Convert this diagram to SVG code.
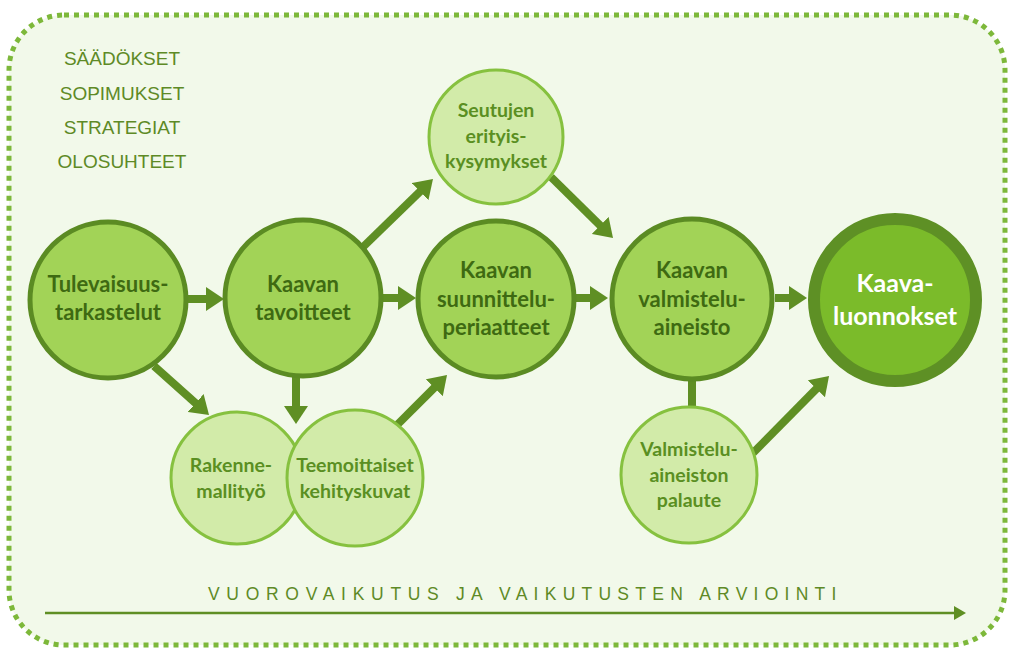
<svg xmlns="http://www.w3.org/2000/svg" width="1024" height="655" viewBox="0 0 1024 655">
<defs>
<style>
.main{fill:#a2d357;stroke:#5b8b23;stroke-width:5}
.light{fill:#d2eba9;stroke:#86c13f;stroke-width:3}
.t{font-family:Lato,"Open Sans",sans-serif;font-weight:bold;text-anchor:middle}
.tm{font-size:22px;fill:#3e6a12}
.tl{font-size:19.5px;fill:#5a8f22}
.side{font-family:"Liberation Sans",Arial,sans-serif;font-size:19px;fill:#5e8a26;text-anchor:middle}
.arr{stroke:#5f8f24;stroke-width:8;fill:none}
.bottom{font-family:"Liberation Sans",Arial,sans-serif;font-size:17.5px;fill:#5e8a26;letter-spacing:6.7px}
</style>
<marker id="ah" viewBox="0 0 18 24" markerUnits="userSpaceOnUse" markerWidth="18" markerHeight="24" refX="2" refY="12" orient="auto">
<path d="M0,0 L18,12 L0,24 z" fill="#5f8f24"/>
</marker>
</defs>
<rect width="1024" height="655" fill="#ffffff"/>
<rect x="9" y="15" width="996" height="630" rx="55" ry="55" fill="#f2f9ea" stroke="#7db83a" stroke-width="5" stroke-dasharray="5 5"/>
<g id="labels-left">
<text class="side" x="122" y="65">SÄÄDÖKSET</text>
<text class="side" x="122" y="100">SOPIMUKSET</text>
<text class="side" x="122" y="134">STRATEGIAT</text>
<text class="side" x="122" y="168">OLOSUHTEET</text>
</g>
<g id="connectors">
<line class="arr" x1="188" y1="299" x2="208" y2="299" marker-end="url(#ah)"/>
<line class="arr" x1="382" y1="298" x2="400" y2="298" marker-end="url(#ah)"/>
<line class="arr" x1="574" y1="298" x2="592" y2="298" marker-end="url(#ah)"/>
<line class="arr" x1="775" y1="298" x2="791" y2="298" marker-end="url(#ah)"/>
<line class="arr" x1="363" y1="247" x2="421.5" y2="190.2" marker-end="url(#ah)"/>
<line class="arr" x1="551" y1="177" x2="601.6" y2="226.8" marker-end="url(#ah)"/>
<line class="arr" x1="154" y1="366" x2="197.1" y2="404.4" marker-end="url(#ah)"/>
<line class="arr" x1="296" y1="377" x2="296" y2="408" marker-end="url(#ah)"/>
<line class="arr" x1="397" y1="425" x2="435.7" y2="386.3" marker-end="url(#ah)"/>
<line class="arr" x1="692" y1="378" x2="692" y2="408"/>
<line class="arr" x1="753" y1="453" x2="817.8" y2="387.4" marker-end="url(#ah)"/>
<line x1="45" y1="613" x2="956" y2="613" stroke="#5f8f24" stroke-width="2.5"/>
<polygon points="954,606 966,613 954,620" fill="#5f8f24"/>
</g>
<g id="n-tulevaisuus">
<circle class="main" cx="108" cy="300" r="78"/>
<text class="t tm" x="108" y="292">Tulevaisuus-</text>
<text class="t tm" x="108" y="320">tarkastelut</text>
</g>
<g id="n-tavoitteet">
<circle class="main" cx="303" cy="298" r="78"/>
<text class="t tm" x="303" y="292">Kaavan</text>
<text class="t tm" x="303" y="320">tavoitteet</text>
</g>
<g id="n-seutujen">
<circle class="light" cx="496" cy="137" r="67"/>
<text class="t tl" x="496" y="117">Seutujen</text>
<text class="t tl" x="496" y="143">erityis-</text>
<text class="t tl" x="496" y="168">kysymykset</text>
</g>
<g id="n-suunnittelu">
<circle class="main" cx="496" cy="299" r="78"/>
<text class="t tm" x="496" y="278">Kaavan</text>
<text class="t tm" x="496" y="307">suunnittelu-</text>
<text class="t tm" x="496" y="335">periaatteet</text>
</g>
<g id="n-valmistelu">
<circle class="main" cx="692" cy="299" r="80"/>
<text class="t tm" x="692" y="278">Kaavan</text>
<text class="t tm" x="692" y="307">valmistelu-</text>
<text class="t tm" x="692" y="335">aineisto</text>
</g>
<g id="n-luonnokset">
<circle cx="895" cy="300" r="81" fill="#7bbb2a" stroke="#5e9025" stroke-width="12"/>
<text class="t" x="895" y="292" font-size="25" fill="#ffffff">Kaava-</text>
<text class="t" x="895" y="325" font-size="25" fill="#ffffff">luonnokset</text>
</g>
<g id="n-rakenne">
<circle class="light" cx="237" cy="478" r="66"/>
<text class="t tl" x="231" y="472">Rakenne-</text>
<text class="t tl" x="231" y="498">mallityö</text>
</g>
<g id="n-teemoittaiset">
<circle class="light" cx="355" cy="478" r="68"/>
<text class="t tl" x="355" y="472">Teemoittaiset</text>
<text class="t tl" x="355" y="498">kehityskuvat</text>
</g>
<g id="n-palaute">
<circle class="light" cx="689" cy="475" r="68"/>
<text class="t tl" x="689" y="456">Valmistelu-</text>
<text class="t tl" x="689" y="482">aineiston</text>
<text class="t tl" x="689" y="507">palaute</text>
</g>
<text class="bottom" x="208" y="600">VUOROVAIKUTUS</text>
<text class="bottom" x="456" y="600" style="letter-spacing:6.25px">JA VAIKUTUSTEN ARVIOINTI</text>
</svg>
